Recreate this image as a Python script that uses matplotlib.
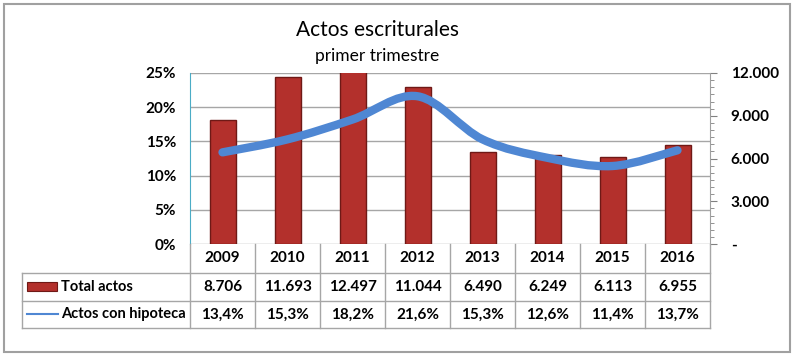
import numpy as np
import matplotlib
matplotlib.use("Agg")
import matplotlib.pyplot as plt
from matplotlib import transforms
from matplotlib.lines import Line2D
from matplotlib.patches import Rectangle, PathPatch
from matplotlib.path import Path
from matplotlib.ticker import MultipleLocator, FuncFormatter

plt.rcParams['font.family'] = ['Lato', 'DejaVu Sans']

# datos
anios = ['2009', '2010', '2011', '2012', '2013', '2014', '2015', '2016']
total_actos = [8706, 11693, 12497, 11044, 6490, 6249, 6113, 6955]
pct_hipoteca = [13.4, 15.3, 18.2, 21.6, 15.3, 12.6, 11.4, 13.7]
total_labels = ['8.706', '11.693', '12.497', '11.044', '6.490', '6.249', '6.113', '6.955']
pct_labels = ['13,4%', '15,3%', '18,2%', '21,6%', '15,3%', '12,6%', '11,4%', '13,7%']

W, H = 800, 358
def fx(px):
    return px / W
def fy(py):
    return 1 - py / H

GRID = '#a6a6a6'
BAR = '#b3302c'
BAR_EDGE = '#6f1916'
LINE = '#4f87d3'
FS = 11

fig = plt.figure(figsize=(W / 100, H / 100), dpi=100)

# marco exterior
fig.add_artist(Rectangle((fx(4), fy(352)), fx(790) - fx(4), fy(4) - fy(352),
                         transform=fig.transFigure, fill=False, edgecolor='#a0a0a0', lw=1.5))

fig.text(fx(378), fy(30), 'Actos escriturales', ha='center', va='center', fontsize=15)
fig.text(fx(377), fy(56), 'primer trimestre', ha='center', va='center', fontsize=12.5)

x = np.arange(len(anios))

ax_cnt = fig.add_axes([fx(190), fy(244), fx(710) - fx(190), fy(73) - fy(244)])
ax_cnt.set_xlim(-0.5, len(anios) - 0.5)
ax_cnt.set_ylim(0, 12000)
for f in np.linspace(0, 1, 6):
    ax_cnt.axhline(f * 12000, color=GRID, lw=1, zorder=0)
ax_cnt.bar(x, total_actos, width=0.4, color=BAR, edgecolor=BAR_EDGE, lw=1, zorder=2)
ax_cnt.set_xticks([])

ax_pct = ax_cnt.twinx()

ax_cnt.yaxis.tick_right()
ax_cnt.yaxis.set_major_locator(MultipleLocator(3000))
ax_cnt.yaxis.set_minor_locator(MultipleLocator(500))
ax_cnt.yaxis.set_major_formatter(FuncFormatter(
    lambda v, p: '-' if v == 0 else f'{int(v):,}'.replace(',', '.')))
ax_cnt.tick_params(axis='y', which='major', length=5, color='#808080', labelsize=FS, pad=10)
ax_cnt.tick_params(axis='y', which='minor', length=3, color='#808080')
for lab in ax_cnt.get_yticklabels():
    lab.set_fontweight('bold')
for s in ['top', 'bottom']:
    ax_cnt.spines[s].set_visible(False)
ax_cnt.spines['right'].set_color('#a0a0a0')
ax_cnt.spines['left'].set_color('#4bacc6')

ax_pct.set_ylim(0, 25)
ax_pct.yaxis.tick_left()
ax_pct.yaxis.set_major_locator(MultipleLocator(5))
ax_pct.yaxis.set_major_formatter(FuncFormatter(lambda v, p: f'{int(v)}%'))
ax_pct.tick_params(axis='y', length=0, labelsize=FS, pad=10)
for lab in ax_pct.get_yticklabels():
    lab.set_fontweight('bold')
for s in ax_pct.spines.values():
    s.set_visible(False)

# linea suavizada (estilo Excel)
pts = np.column_stack([x, pct_hipoteca]).astype(float)
verts = [pts[0]]
codes = [Path.MOVETO]
n = len(pts)
for i in range(n - 1):
    p0 = pts[i - 1] if i > 0 else pts[i]
    p1, p2 = pts[i], pts[i + 1]
    p3 = pts[i + 2] if i + 2 < n else pts[i + 1]
    c1 = p1 + (p2 - p0) / 6
    c2 = p2 - (p3 - p1) / 6
    verts += [c1, c2, p2]
    codes += [Path.CURVE4] * 3
ax_pct.add_patch(PathPatch(Path(verts, codes), fill=False, edgecolor=LINE, lw=6,
                           capstyle='round', joinstyle='round', zorder=3))

# tabla de datos
blend = transforms.blended_transform_factory(ax_cnt.transData, fig.transFigure)
y_top, y_h, y_r1, y_r2 = 244, 273, 301, 328
bounds = np.arange(len(anios) + 1) - 0.5

def hline(x0, x1, ypx, tr):
    fig.add_artist(Line2D([x0, x1], [fy(ypx), fy(ypx)], transform=tr, color=GRID, lw=1))

def vline(xv, y0, y1, tr):
    fig.add_artist(Line2D([xv, xv], [fy(y0), fy(y1)], transform=tr, color=GRID, lw=1))

for b in bounds:
    vline(b, y_top, y_r2, blend)
vline(fx(22), y_h, y_r2, fig.transFigure)
hline(fx(22), fx(710), y_h, fig.transFigure)
hline(fx(22), fx(710), y_r1, fig.transFigure)
hline(fx(22), fx(710), y_r2, fig.transFigure)

for i in range(len(anios)):
    ax_cnt.text(x[i], fy((y_top + y_h) / 2), anios[i], transform=blend, ha='center',
                va='center', fontsize=FS, fontweight='bold')
    ax_cnt.text(x[i], fy((y_h + y_r1) / 2), total_labels[i], transform=blend, ha='center',
                va='center', fontsize=FS, fontweight='bold')
    ax_cnt.text(x[i], fy((y_r1 + y_r2) / 2), pct_labels[i], transform=blend, ha='center',
                va='center', fontsize=FS, fontweight='bold')

# claves de leyenda
fig.add_artist(Rectangle((fx(27), fy(291)), fx(57) - fx(27), fy(282) - fy(291),
                         transform=fig.transFigure, facecolor=BAR, edgecolor=BAR_EDGE, lw=0.8))
fig.text(fx(61), fy(287), 'Total actos', ha='left', va='center', fontsize=10.5, fontweight='bold')
fig.add_artist(Line2D([fx(27), fx(58)], [fy(314), fy(314)], transform=fig.transFigure,
                      color=LINE, lw=1.5))
fig.text(fx(61), fy(314), 'Actos con hipoteca', ha='left', va='center', fontsize=10.5,
         fontweight='bold')

fig.savefig('out.png', dpi=100)
